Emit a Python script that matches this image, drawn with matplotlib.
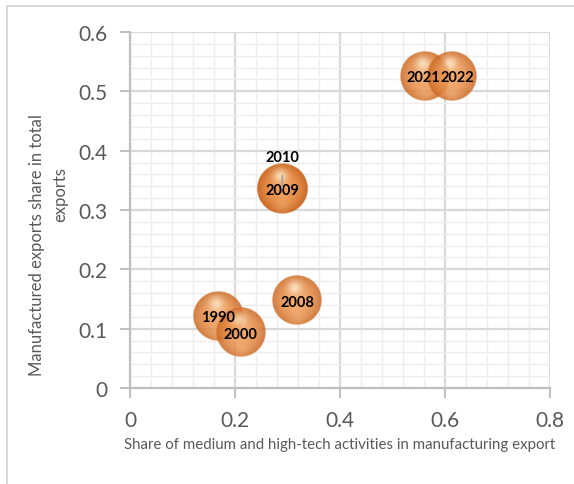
import numpy as np
import matplotlib
matplotlib.use("Agg")
import matplotlib.pyplot as plt
from matplotlib.patches import Rectangle
import matplotlib.ticker as mticker

# data
years = ["1990", "2000", "2008", "2009", "2010", "2021", "2022"]
tech_share = [0.168, 0.211, 0.318, 0.290, 0.290, 0.562, 0.613]
manuf_share = [0.122, 0.094, 0.148, 0.336, 0.337, 0.526, 0.526]
x_ticks = [0, 0.2, 0.4, 0.6, 0.8]
y_ticks = [0, 0.1, 0.2, 0.3, 0.4, 0.5, 0.6]

_GRID = "#D9D9D9"
_MINOR = "#EDEDED"
_AXIS = "#BFBFBF"
_TEXT = "#595959"

plt.rcParams["font.family"] = ["Lato", "DejaVu Sans"]


def _ball_image(n=121):
    """RGBA image of a translucent, shaded orange sphere."""
    u = np.linspace(-1, 1, n)
    uu, vv = np.meshgrid(u, u)          # vv > 0 is the top (origin='lower')
    r = np.sqrt(uu ** 2 + vv ** 2)
    edge = np.array([0.79, 0.40, 0.13])
    centre = np.array([0.94, 0.61, 0.34])
    rgb = centre + (edge - centre) * np.clip(r, 0, 1)[..., None] ** 2.2
    hi = 0.75 * np.exp(-((uu + 0.08) ** 2 + (vv - 0.5) ** 2) / (2 * 0.2 ** 2))
    rgb = rgb + (np.array([1.0, 0.94, 0.82]) - rgb) * hi[..., None]
    rim = 0.3 * np.exp(-(uu ** 2 + (vv + 0.72) ** 2) / (2 * 0.22 ** 2))
    rgb = rgb + (np.array([0.99, 0.76, 0.54]) - rgb) * rim[..., None]
    alpha = 0.86 * np.clip((1 - r) * n / 2, 0, 1)
    return np.dstack([np.clip(rgb, 0, 1), alpha])


fig = plt.figure(figsize=(5.74, 4.85), dpi=100)
ax = fig.add_axes([130 / 574, 1 - 389 / 485, 420 / 574, 356 / 485])

# chart border (light grey frame like the Excel chart area)
fig.patches.append(Rectangle((7 / 574, -0.01), 0.99, 1 - 7 / 485 + 0.01,
                             transform=fig.transFigure, fill=False,
                             edgecolor="#D9D9D9", linewidth=1.5))

ax.set_xlim(0, 0.8)
ax.set_ylim(0, 0.6)
ax.set_xticks(x_ticks)
ax.set_yticks(y_ticks)
ax.xaxis.set_major_formatter(mticker.FuncFormatter(lambda v, p: f"{v:g}"))
ax.yaxis.set_major_formatter(mticker.FuncFormatter(lambda v, p: f"{v:g}"))
ax.xaxis.set_minor_locator(mticker.MultipleLocator(0.04))
ax.yaxis.set_minor_locator(mticker.MultipleLocator(0.02))
ax.grid(which="major", color=_GRID, linewidth=1.6, zorder=0)
ax.grid(which="minor", color=_MINOR, linewidth=1.0, zorder=0)
ax.set_axisbelow(True)

for side in ("top", "right"):
    ax.spines[side].set_visible(False)
for side in ("left", "bottom"):
    ax.spines[side].set_color(_AXIS)
    ax.spines[side].set_linewidth(1.6)
ax.tick_params(which="major", direction="out", length=7, width=1.4,
               color=_AXIS, labelcolor=_TEXT, labelsize=15, pad=9)
ax.tick_params(which="minor", length=0)

# bubbles: shaded translucent spheres, radius fixed in pixels
ball = _ball_image()
radius_px = 25
inv = ax.transData.inverted()
for i in range(len(years)):
    cx, cy = ax.transData.transform((tech_share[i], manuf_share[i]))
    (x0, y0), (x1, y1) = inv.transform([(cx - radius_px, cy - radius_px),
                                        (cx + radius_px, cy + radius_px)])
    ax.imshow(ball, extent=(x0, x1, y0, y1), origin="lower", aspect="auto",
              interpolation="bilinear", zorder=3 + i)
ax.set_xlim(0, 0.8)
ax.set_ylim(0, 0.6)

# data labels
label_offsets = {"2021": (-1, 0), "2022": (4, 0)}
for i, yr in enumerate(years):
    if yr == "2010":
        ax.annotate(yr, (tech_share[i], manuf_share[i]), xytext=(0, 22),
                    textcoords="offset points", ha="center", va="center",
                    fontsize=10.5, fontweight="bold", color="black", zorder=20,
                    arrowprops=dict(arrowstyle="-", color="#A5A5A5", lw=1.2,
                                    shrinkA=6, shrinkB=0))
    else:
        dx, dy = label_offsets.get(yr, (0, 0))
        ax.annotate(yr, (tech_share[i], manuf_share[i]), xytext=(dx, dy - 1),
                    textcoords="offset points", ha="center", va="center",
                    fontsize=10.5, fontweight="bold", color="black", zorder=20)

ax.set_xlabel("Share of medium and high-tech activities in manufacturing export",
              fontsize=10.8, color=_TEXT, labelpad=5)
fig.text(37 / 574, 1 - 245 / 485, "Manufactured exports share in total",
         rotation=90, ha="center", va="center", fontsize=12, color=_TEXT)
fig.text(60 / 574, 1 - 195 / 485, "exports", rotation=90, ha="center",
         va="center", fontsize=12, color=_TEXT)

fig.savefig("out.png", dpi=100)
